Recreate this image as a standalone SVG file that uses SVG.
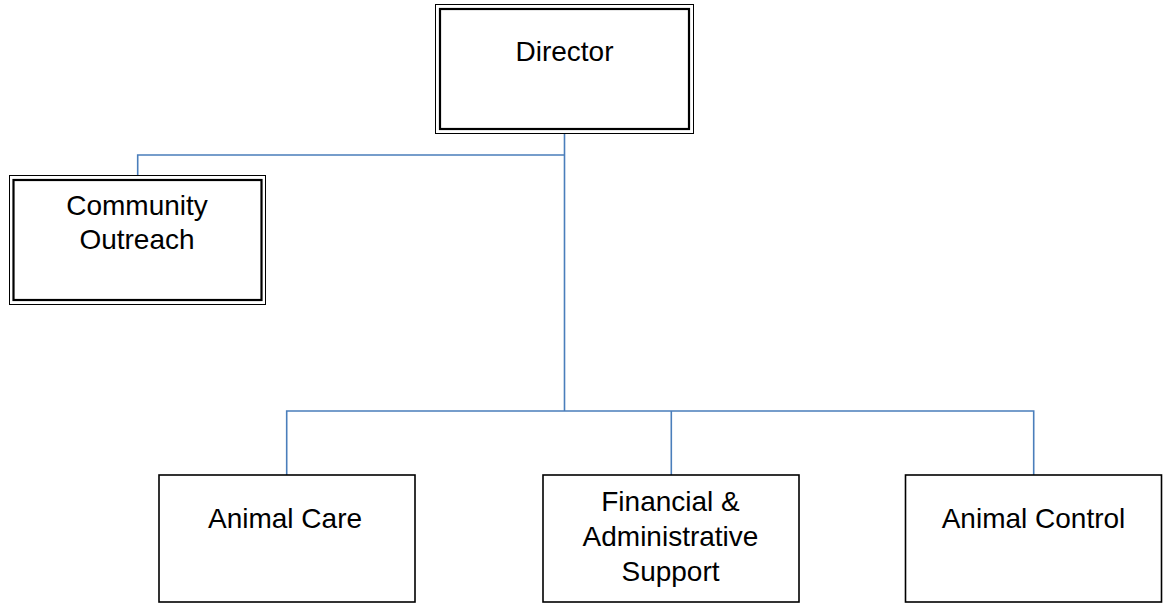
<svg xmlns="http://www.w3.org/2000/svg" width="1166" height="603" viewBox="0 0 1166 603">
<style>
.outer{fill:none;stroke:#000;stroke-width:1}
.inner{fill:none;stroke:#000;stroke-width:2.2}
.box{fill:#fff;stroke:#000;stroke-width:1.6}
.lbl{font-family:"Liberation Sans",Arial,sans-serif;font-size:28px;fill:#000;text-anchor:middle}
.conn{fill:none;stroke:#4a7ebb;stroke-width:1.6}
</style>
<rect width="1166" height="603" fill="#fff"/>
<g id="connectors">
<path class="conn" d="M564.5,134 V411"/>
<path class="conn" d="M564.5,155 H137.7 V176"/>
<path class="conn" d="M286.7,475 V411 H1033.7 V475"/>
<path class="conn" d="M671.3,411 V475"/>
</g>
<g id="director">
<rect class="outer" x="435.5" y="4.5" width="258" height="129" fill="#fff"/>
<rect class="inner" x="440" y="9" width="249" height="120"/>
<text class="lbl" x="564.5" y="61">Director</text>
</g>
<g id="community-outreach">
<rect class="outer" x="9.5" y="175.5" width="256" height="129" fill="#fff"/>
<rect class="inner" x="13.5" y="180" width="248" height="120"/>
<text class="lbl" x="137" y="215">Community</text>
<text class="lbl" x="137" y="249">Outreach</text>
</g>
<g id="animal-care">
<rect class="box" x="159" y="475" width="256" height="127"/>
<text class="lbl" x="285" y="528">Animal Care</text>
</g>
<g id="financial-admin">
<rect class="box" x="543" y="475" width="256" height="127"/>
<text class="lbl" x="670.5" y="511">Financial &amp;</text>
<text class="lbl" x="670.5" y="546">Administrative</text>
<text class="lbl" x="670.5" y="581">Support</text>
</g>
<g id="animal-control">
<rect class="box" x="905.5" y="475" width="256" height="127"/>
<text class="lbl" x="1033.5" y="528">Animal Control</text>
</g>
</svg>
